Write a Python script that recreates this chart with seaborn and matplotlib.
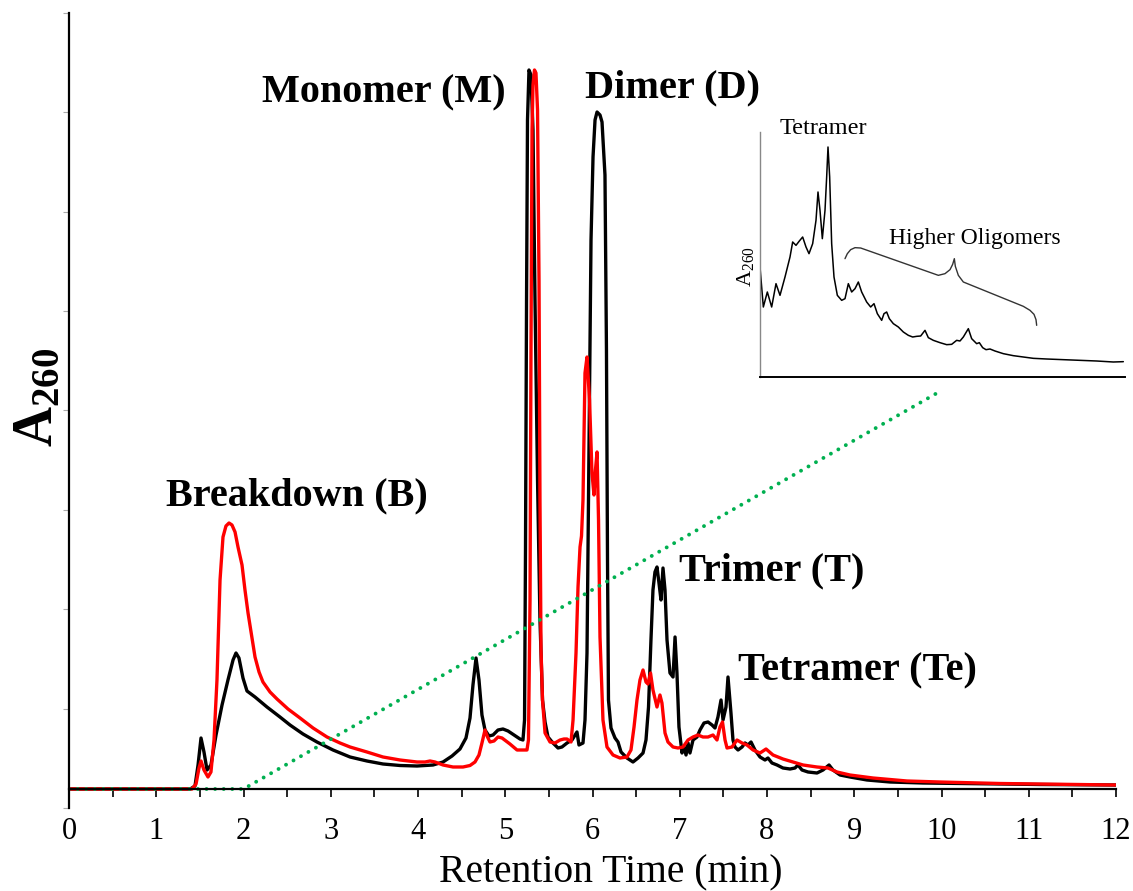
import numpy as np
import pandas as pd
import seaborn as sns
import matplotlib.pyplot as plt

# chromatogram traces (retention time in min, A260 in arbitrary units)
black_t = [0.00, 1.39, 1.444, 1.479, 1.513, 1.547, 1.582, 1.627, 1.685, 1.754, 1.822, 1.880, 1.914, 1.948,
           1.994, 2.040, 2.132, 2.269, 2.418, 2.533, 2.682, 2.842, 3.026, 3.221, 3.415, 3.599, 3.794, 3.989,
           4.172, 4.287, 4.390, 4.481, 4.550, 4.596, 4.630, 4.665, 4.699, 4.733, 4.768, 4.814, 4.860, 4.917,
           4.974, 5.032, 5.100, 5.169, 5.203, 5.221, 5.232, 5.244, 5.255, 5.272, 5.295, 5.318, 5.341, 5.370,
           5.398, 5.427, 5.456, 5.490, 5.547, 5.605, 5.650, 5.708, 5.765, 5.822, 5.845, 5.891, 5.914, 5.937,
           5.960, 5.983, 6.006, 6.029, 6.052, 6.086, 6.109, 6.143, 6.160, 6.172, 6.183, 6.212, 6.258, 6.292,
           6.327, 6.395, 6.464, 6.522, 6.579, 6.613, 6.642, 6.670, 6.693, 6.716, 6.739, 6.762, 6.785, 6.808,
           6.831, 6.854, 6.888, 6.923, 6.946, 6.968, 6.991, 7.026, 7.049, 7.072, 7.095, 7.117, 7.152, 7.198,
           7.232, 7.278, 7.324, 7.370, 7.404, 7.438, 7.473, 7.496, 7.530, 7.553, 7.587, 7.610, 7.633, 7.668,
           7.714, 7.748, 7.782, 7.817, 7.862, 7.920, 7.977, 8.011, 8.057, 8.115, 8.183, 8.264, 8.321, 8.355,
           8.401, 8.470, 8.573, 8.642, 8.711, 8.756, 8.837, 8.951, 9.146, 9.410, 9.788, 10.21, 11.13, 12.0]
black_a = [0.00, 0.00, 0.03, 0.24, 0.51, 0.37, 0.19, 0.24, 0.54, 0.84, 1.09, 1.29, 1.36, 1.31,
           1.11, 0.98, 0.92, 0.82, 0.72, 0.64, 0.55, 0.47, 0.39, 0.32, 0.28, 0.25, 0.235, 0.23,
           0.24, 0.27, 0.33, 0.40, 0.51, 0.71, 1.04, 1.31, 1.09, 0.74, 0.59, 0.53, 0.54, 0.59,
           0.60, 0.58, 0.54, 0.50, 0.49, 0.69, 2.39, 4.89, 6.69, 7.19, 7.14, 6.59, 4.89, 3.09,
           1.69, 0.89, 0.67, 0.52, 0.46, 0.41, 0.42, 0.46, 0.49, 0.57, 0.44, 0.46, 0.69, 1.36,
           3.39, 5.49, 6.32, 6.69, 6.77, 6.74, 6.67, 6.14, 4.39, 2.29, 0.89, 0.61, 0.51, 0.47,
           0.37, 0.31, 0.27, 0.31, 0.36, 0.49, 0.82, 1.49, 1.99, 2.17, 2.22, 2.06, 1.89, 2.21,
           1.99, 1.49, 1.16, 1.12, 1.52, 1.16, 0.62, 0.36, 0.42, 0.34, 0.46, 0.36, 0.49, 0.52,
           0.59, 0.66, 0.67, 0.64, 0.61, 0.72, 0.89, 0.69, 0.82, 1.12, 0.76, 0.49, 0.42, 0.39,
           0.42, 0.46, 0.44, 0.47, 0.39, 0.32, 0.29, 0.31, 0.26, 0.24, 0.21, 0.20, 0.21, 0.24,
           0.19, 0.17, 0.16, 0.19, 0.24, 0.19, 0.14, 0.12, 0.09, 0.07, 0.06, 0.055, 0.045, 0.04]

red_t = [0.00, 1.41, 1.456, 1.490, 1.513, 1.547, 1.593, 1.627, 1.662, 1.696, 1.731, 1.765, 1.799, 1.834,
         1.868, 1.903, 1.937, 1.983, 2.017, 2.052, 2.097, 2.132, 2.178, 2.223, 2.304, 2.384, 2.510, 2.648,
         2.797, 2.957, 3.106, 3.221, 3.415, 3.599, 3.794, 3.989, 4.080, 4.138, 4.195, 4.287, 4.401, 4.516,
         4.596, 4.653, 4.699, 4.733, 4.768, 4.797, 4.825, 4.871, 4.917, 4.963, 5.009, 5.054, 5.135, 5.249,
         5.266, 5.284, 5.295, 5.307, 5.318, 5.335, 5.352, 5.370, 5.387, 5.398, 5.410, 5.427, 5.456, 5.513,
         5.570, 5.628, 5.673, 5.708, 5.754, 5.777, 5.811, 5.834, 5.857, 5.874, 5.891, 5.914, 5.937, 5.966,
         5.994, 6.017, 6.034, 6.052, 6.069, 6.086, 6.120, 6.166, 6.235, 6.315, 6.395, 6.441, 6.476, 6.510,
         6.544, 6.579, 6.613, 6.636, 6.665, 6.693, 6.739, 6.773, 6.796, 6.831, 6.865, 6.923, 6.980, 7.037,
         7.095, 7.152, 7.209, 7.266, 7.324, 7.381, 7.427, 7.461, 7.490, 7.519, 7.542, 7.599, 7.656, 7.714,
         7.771, 7.840, 7.920, 7.989, 8.069, 8.183, 8.298, 8.413, 8.573, 8.699, 8.802, 8.951, 9.215, 9.605,
         9.983, 10.67, 12.0]
red_a = [0.00, 0.00, 0.05, 0.21, 0.28, 0.19, 0.12, 0.17, 0.49, 1.09, 2.09, 2.52, 2.63, 2.66,
         2.64, 2.57, 2.42, 2.24, 1.99, 1.76, 1.51, 1.32, 1.17, 1.07, 0.97, 0.90, 0.80, 0.71,
         0.61, 0.52, 0.46, 0.42, 0.37, 0.32, 0.29, 0.27, 0.27, 0.28, 0.27, 0.24, 0.22, 0.22,
         0.235, 0.27, 0.34, 0.46, 0.59, 0.52, 0.47, 0.48, 0.52, 0.51, 0.48, 0.45, 0.39, 0.39,
         0.49, 1.89, 4.39, 6.59, 7.04, 7.19, 7.16, 6.79, 5.09, 2.89, 1.39, 0.89, 0.56, 0.47,
         0.46, 0.49, 0.50, 0.50, 0.47, 0.69, 1.36, 2.02, 2.42, 2.53, 2.89, 4.16, 4.32, 3.89,
         3.16, 2.94, 3.19, 3.37, 2.69, 1.52, 0.69, 0.42, 0.34, 0.31, 0.32, 0.39, 0.62, 0.89,
         1.09, 1.19, 1.07, 1.05, 1.16, 0.99, 0.82, 0.94, 0.86, 0.56, 0.47, 0.42, 0.41, 0.42,
         0.49, 0.52, 0.54, 0.52, 0.52, 0.54, 0.49, 0.62, 0.67, 0.49, 0.41, 0.42, 0.49, 0.46,
         0.44, 0.39, 0.36, 0.40, 0.34, 0.30, 0.27, 0.24, 0.22, 0.21, 0.17, 0.14, 0.11, 0.08,
         0.07, 0.055, 0.04]

# elution gradient (dotted green)
grad_t = [0.0, 2.0, 9.95]
grad_a = [0.0, 0.0, 3.96]

# inset: zoom of the oligomer region (arbitrary units)
inset_x = [0.00, 0.10, 0.22, 0.35, 0.48, 0.60, 0.75, 0.90, 0.98, 1.08, 1.18, 1.28, 1.38, 1.47, 1.58,
           1.68, 1.74, 1.80, 1.87, 1.95, 2.00, 2.04, 2.09, 2.15, 2.22, 2.32, 2.45, 2.55, 2.65, 2.75,
           2.85, 2.95, 3.05, 3.20, 3.32, 3.42, 3.52, 3.65, 3.72, 3.80, 3.88, 4.00, 4.15, 4.30, 4.45,
           4.58, 4.70, 4.82, 4.95, 5.05, 5.20, 5.40, 5.60, 5.75, 5.90, 6.00, 6.10, 6.25, 6.35, 6.50,
           6.58, 6.68, 6.78, 6.90, 7.05, 7.30, 7.60, 7.90, 8.20, 8.60, 9.10, 9.60, 10.10, 10.60, 10.90]
inset_y = [3.30, 2.10, 2.55, 2.10, 2.80, 2.45, 3.00, 3.60, 4.05, 3.95, 4.08, 4.20, 3.90, 3.70, 4.00,
           4.70, 5.55, 5.00, 4.15, 5.00, 6.00, 6.90, 6.00, 4.00, 3.00, 2.45, 2.30, 2.35, 2.80, 2.55,
           2.65, 2.85, 2.55, 2.25, 2.10, 2.20, 1.90, 1.70, 1.90, 1.95, 1.75, 1.60, 1.50, 1.35, 1.25,
           1.20, 1.22, 1.23, 1.40, 1.18, 1.10, 1.03, 0.97, 0.98, 1.10, 1.08, 1.20, 1.45, 1.15, 1.00,
           1.03, 0.88, 0.82, 0.84, 0.78, 0.70, 0.64, 0.60, 0.56, 0.54, 0.52, 0.50, 0.48, 0.45, 0.46]
brace_x = [2.55, 2.62, 2.72, 2.85, 3.02, 5.35, 5.55, 5.70, 5.78, 5.83, 5.86, 5.95, 6.10, 7.90, 8.10,
           8.22, 8.28, 8.30]
brace_y = [3.55, 3.70, 3.82, 3.88, 3.87, 3.05, 3.10, 3.22, 3.38, 3.55, 3.32, 3.05, 2.85, 2.12, 2.00,
           1.88, 1.72, 1.55]

peak_labels = ['Breakdown (B)', 'Monomer (M)', 'Dimer (D)', 'Trimer (T)', 'Tetramer (Te)']
label_t = [2.61, 3.61, 6.92, 8.05, 9.04]
label_a = [2.93, 6.96, 7.01, 2.18, 1.18]

sns.set_theme(style='white')
plt.rcParams['font.family'] = ['Liberation Serif', 'DejaVu Serif']
plt.rcParams['mathtext.fontset'] = 'custom'
plt.rcParams['mathtext.rm'] = 'Liberation Serif'
plt.rcParams['mathtext.bf'] = 'Liberation Serif:bold'
plt.rcParams['mathtext.it'] = 'Liberation Serif:italic'
plt.rcParams['text.color'] = 'black'
plt.rcParams['xtick.labelcolor'] = 'black'
plt.rcParams['lines.solid_joinstyle'] = 'round'

fig = plt.figure(figsize=(11.33, 8.91), dpi=100)
ax = fig.add_axes([69 / 1133, 83 / 891, 1047 / 1133, 795 / 891])

df_b = pd.DataFrame({'t': black_t, 'a': black_a})
df_r = pd.DataFrame({'t': red_t, 'a': red_a})
sns.lineplot(data=df_b, x='t', y='a', ax=ax, color='black', lw=2.4, sort=False)
sns.lineplot(data=df_r, x='t', y='a', ax=ax, color='#ff0000', lw=2.4, sort=False)
ax.plot(grad_t, grad_a, color='#00b050', lw=2.8, linestyle=(0, (0.01, 2.2)),
        dash_capstyle='round')

ax.set_xlim(0, 12)
ax.set_ylim(-0.19, 7.76)
ax.set_xticks(range(13))
ax.set_xticks(np.arange(0.5, 12, 1.0), minor=True)
ax.set_yticks(np.linspace(-0.19, 7.76, 9))
ax.set_yticklabels([])
ax.spines['top'].set_visible(False)
ax.spines['right'].set_visible(False)
ax.spines['bottom'].set_position(('data', 0.0))
ax.spines['bottom'].set_linewidth(1.6)
ax.spines['left'].set_linewidth(1.6)
ax.spines['bottom'].set_color('black')
ax.spines['left'].set_color('black')
ax.tick_params(axis='x', which='both', direction='out', length=6, width=1.2, color='black',
               bottom=True, labelsize=22, pad=14, labelcolor='black')
ax.tick_params(axis='y', direction='out', length=4, width=0.8, color='#aaaaaa', left=True)
ax.set_xlabel('')
ax.set_ylabel('')

fig.text(611 / 1133, 1 - 873 / 891, 'Retention Time (min)', fontsize=28.5, ha='center',
         va='center', color='black')
fig.text(38 / 1133, 1 - 397 / 891, r'$\mathbf{A}_{\mathbf{260}}$', fontsize=40, rotation=90,
         ha='center', va='center', color='black')

for lab, x, y in zip(peak_labels, label_t, label_a):
    ax.text(x, y, lab, fontsize=29, fontweight='bold', ha='center', va='center', color='black')

# inset
axi = fig.add_axes([760 / 1133, 1 - 377 / 891, 365 / 1133, 245 / 891])
axi.set_facecolor('none')
sns.lineplot(x=inset_x, y=inset_y, ax=axi, color='black', lw=1.1, sort=False)
axi.plot(brace_x, brace_y, color='#333333', lw=1.0)
axi.set_xlim(0, 10.95)
axi.set_ylim(0, 7.35)
axi.set_xticks([])
axi.set_yticks([])
axi.spines['top'].set_visible(False)
axi.spines['right'].set_visible(False)
axi.spines['left'].set_color('#888888')
axi.spines['left'].set_linewidth(1.0)
axi.spines['bottom'].set_color('black')
axi.spines['bottom'].set_linewidth(1.4)
axi.text(1.90, 7.45, 'Tetramer', fontsize=17.5, ha='center', va='center', clip_on=False)
axi.text(6.45, 4.15, 'Higher Oligomers', fontsize=17, ha='center', va='center')
axi.text(-0.45, 3.3, r'$\mathrm{A}_{\mathrm{260}}$', fontsize=16, rotation=90,
         ha='center', va='center', clip_on=False)

plt.savefig('out.png', dpi=100)
